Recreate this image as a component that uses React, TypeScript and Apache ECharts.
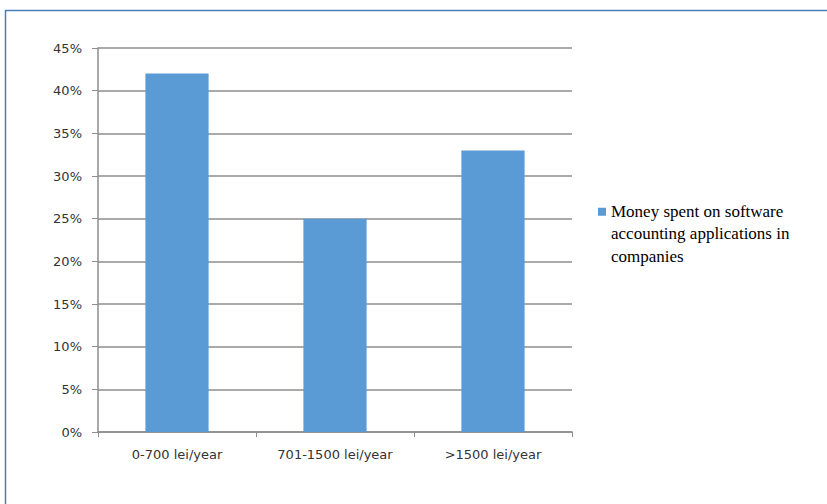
import React, { useEffect, useRef } from "react";
import * as echarts from "echarts";

const categories = ["0-700 lei/year", "701-1500 lei/year", ">1500 lei/year"];
const seriesName = "Money spent on software accounting applications in companies";
const legendLines = ["Money spent on software", "accounting applications in", "companies"];
const values = [0.42, 0.25, 0.33];
const yMin = 0;
const yMax = 0.45;
const yStep = 0.05;

export default function App() {
  const ref = useRef<HTMLDivElement>(null);
  useEffect(() => {
    if (!ref.current) return;
    const chart = echarts.init(ref.current, undefined, { renderer: "svg" });
    chart.setOption({
      animation: false,
      backgroundColor: "#ffffff",
      textStyle: { fontFamily: "DejaVu Sans" },
      grid: { left: 98, right: 255, top: 48, bottom: 72 },
      legend: {
        left: 598,
        top: 200,
        padding: 0,
        orient: "vertical",
        itemWidth: 8,
        itemHeight: 52,
        icon: "path://M0,0L8,0L8,8L0,8Z M0,52L0.01,52",
        formatter: () => legendLines.join("\n"),
        textStyle: {
          fontFamily: "Liberation Serif",
          fontSize: 17,
          lineHeight: 22.5,
          color: "#000000",
        },
        data: [seriesName],
      },
      xAxis: {
        type: "category",
        data: categories,
        axisLine: { lineStyle: { color: "#8c8c8c", width: 1.5 } },
        axisTick: { show: true, length: 5, lineStyle: { color: "#8c8c8c" } },
        axisLabel: { margin: 16, fontSize: 13, color: "#333333", fontFamily: "DejaVu Sans" },
      },
      yAxis: {
        type: "value",
        min: yMin,
        max: yMax,
        interval: yStep,
        axisLine: { show: true, lineStyle: { color: "#8c8c8c", width: 1.5 } },
        axisTick: { show: true, length: 6, lineStyle: { color: "#8c8c8c" } },
        axisLabel: {
          margin: 16,
          fontSize: 13,
          color: "#333333",
          fontFamily: "DejaVu Sans",
          formatter: (v: number) => Math.round(v * 100) + "%",
        },
        splitLine: {
          show: true,
          lineStyle: { color: "#8e8e8e", width: 1.5 },
        },
      },
      series: [
        {
          name: seriesName,
          type: "bar",
          data: values,
          barWidth: "40%",
          itemStyle: { color: "#5b9bd5" },
        },
      ],
      graphic: [
        {
          type: "line",
          shape: { x1: 5, y1: 10.5, x2: 827, y2: 10.5 },
          style: { stroke: "#4a7ebb", lineWidth: 1.5 },
          silent: true,
        },
        {
          type: "line",
          shape: { x1: 5.5, y1: 10, x2: 5.5, y2: 504 },
          style: { stroke: "#4a7ebb", lineWidth: 1.5 },
          silent: true,
        },
      ],
    });
    return () => chart.dispose();
  }, []);
  return (
    <div
      ref={ref}
      style={{ position: "absolute", left: 0, top: 0, width: 827, height: 504 }}
    />
  );
}
